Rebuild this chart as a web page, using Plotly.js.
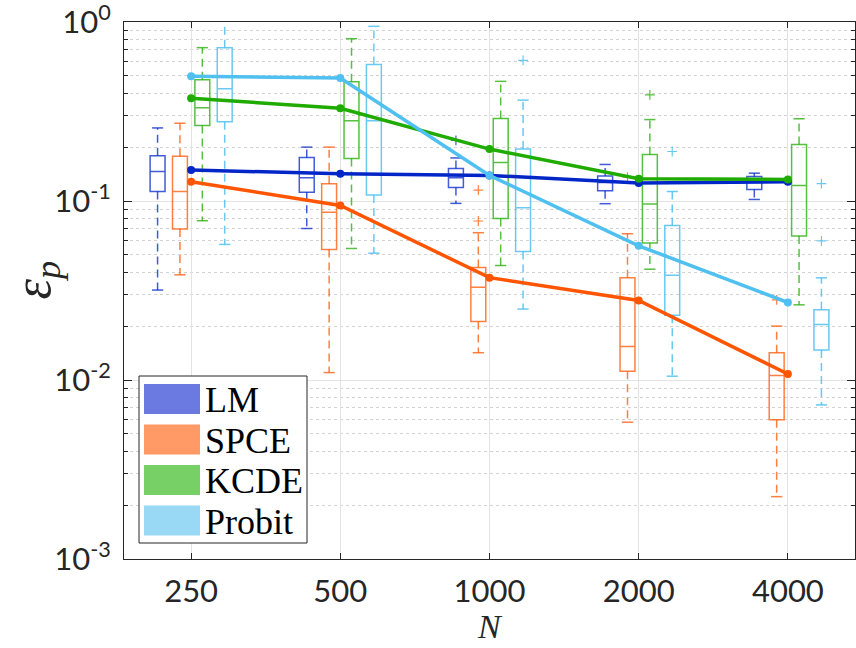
<!DOCTYPE html>
<html>
<head>
<meta charset="utf-8">
<script src="https://cdn.plot.ly/plotly-3.0.1.min.js"></script>
<style>
  body { margin: 0; background: #fff; }
  #chart { width: 856px; height: 648px; }
</style>
</head>
<body>
<div id="chart"></div>
<script>
/* error of the p-quantile vs sample size N, four surrogate methods */

const N_LABELS = ['250', '500', '1000', '2000', '4000'];
const METHODS = ['LM', 'SPCE', 'KCDE', 'Probit'];

// connected markers (one value per N)
const LINE_LM = [0.149, 0.142, 0.139, 0.126, 0.128];
const LINE_SPCE = [0.128, 0.0945, 0.0373, 0.0278, 0.0108];
const LINE_KCDE = [0.375, 0.330, 0.195, 0.133, 0.132];
const LINE_PROBIT = [0.498, 0.486, 0.139, 0.0562, 0.0271];

// box stats per N: lower whisker, q1, median, q3, upper whisker
const LM_LO = [0.0318, 0.0702, 0.0970, 0.0966, 0.102];
const LM_Q1 = [0.113, 0.112, 0.119, 0.114, 0.116];
const LM_MED = [0.146, 0.135, 0.135, 0.127, 0.130];
const LM_Q3 = [0.179, 0.175, 0.152, 0.138, 0.137];
const LM_HI = [0.256, 0.200, 0.174, 0.160, 0.143];

const SPCE_LO = [0.0387, 0.0110, 0.0142, 0.00581, 0.00223];
const SPCE_Q1 = [0.0697, 0.0536, 0.0212, 0.0112, 0.00599];
const SPCE_MED = [0.113, 0.0864, 0.0330, 0.0154, 0.0106];
const SPCE_Q3 = [0.178, 0.125, 0.0425, 0.0373, 0.0142];
const SPCE_HI = [0.272, 0.200, 0.0665, 0.0656, 0.0200];

const KCDE_LO = [0.0776, 0.0543, 0.0436, 0.0416, 0.0263];
const KCDE_Q1 = [0.264, 0.173, 0.0799, 0.0582, 0.0637];
const KCDE_MED = [0.332, 0.281, 0.164, 0.0962, 0.122];
const KCDE_Q3 = [0.476, 0.464, 0.289, 0.182, 0.207];
const KCDE_HI = [0.719, 0.807, 0.466, 0.285, 0.288];

const PROBIT_LO = [0.0572, 0.0511, 0.0249, 0.0105, 0.00726];
const PROBIT_Q1 = [0.277, 0.108, 0.0522, 0.0230, 0.0147];
const PROBIT_MED = [0.424, 0.281, 0.0917, 0.0385, 0.0204];
const PROBIT_Q3 = [0.719, 0.578, 0.195, 0.0730, 0.0247];
const PROBIT_HI = [1.2, 0.946, 0.366, 0.113, 0.0372];

// outliers: [N index, value]
const LM_OUT = [[2, 0.218]];
const SPCE_OUT = [[2, 0.115], [2, 0.0773], [3, 0.136], [4, 0.0280]];
const KCDE_OUT = [[3, 0.392]];
const PROBIT_OUT = [[2, 0.610], [3, 0.189], [4, 0.125], [4, 0.0599]];

const Y_TICKS = [0.001, 0.01, 0.1, 1];
const Y_TICKTEXT = ['10<sup>-3</sup>', '10<sup>-2</sup>', '10<sup>-1</sup>', '10<sup>0</sup>'];

const LINE_COLORS = ['#0026c8', '#ff5500', '#1fab00', '#4fc0f0'];
const BOX_COLORS = ['rgba(0,38,200,0.75)', 'rgba(255,85,0,0.75)',
  'rgba(31,171,0,0.75)', 'rgba(79,192,240,0.85)'];
const SWATCH = ['#6a7ae0', '#ff9966', '#77d066', '#99d9f5'];
const OFFSETS = [-0.225, -0.075, 0.075, 0.225];

const TEXT = '#262626';
const SERIF = 'Liberation Serif, Times New Roman, serif';
const SANS = 'Lato, Open Sans, sans-serif';

const STATS = [
  { lo: LM_LO, q1: LM_Q1, med: LM_MED, q3: LM_Q3, hi: LM_HI, out: LM_OUT, line: LINE_LM },
  { lo: SPCE_LO, q1: SPCE_Q1, med: SPCE_MED, q3: SPCE_Q3, hi: SPCE_HI, out: SPCE_OUT, line: LINE_SPCE },
  { lo: KCDE_LO, q1: KCDE_Q1, med: KCDE_MED, q3: KCDE_Q3, hi: KCDE_HI, out: KCDE_OUT, line: LINE_KCDE },
  { lo: PROBIT_LO, q1: PROBIT_Q1, med: PROBIT_MED, q3: PROBIT_Q3, hi: PROBIT_HI, out: PROBIT_OUT, line: LINE_PROBIT },
];

const pos = N_LABELS.map((_, i) => i + 1);

const boxes = [], whiskers = [], lines = [];
STATS.forEach((s, m) => {
  const col = BOX_COLORS[m];
  const xs = pos.map(p => p + OFFSETS[m]);
  boxes.push({
    type: 'box', x: xs, q1: s.q1, median: s.med, q3: s.q3,
    lowerfence: s.q1, upperfence: s.q3, width: 0.1, whiskerwidth: 0,
    line: { color: col, width: 1.5 }, fillcolor: 'rgba(0,0,0,0)',
    boxpoints: false, hoverinfo: 'skip', showlegend: false,
  });
  // dashed whiskers
  const wx = [], wy = [];
  xs.forEach((x, i) => {
    wx.push(x, x, null, x, x, null);
    wy.push(s.q3[i], s.hi[i], null, s.q1[i], s.lo[i], null);
  });
  whiskers.push({
    type: 'scatter', mode: 'lines', x: wx, y: wy, connectgaps: false,
    line: { color: col, width: 1.5, dash: '8px,5px' },
    hoverinfo: 'skip', showlegend: false,
  });
  // whisker caps
  whiskers.push({
    type: 'scatter', mode: 'markers', x: xs.concat(xs), y: s.lo.concat(s.hi),
    marker: { symbol: 'line-ew-open', size: 8, color: col, line: { color: col, width: 1.5 } },
    hoverinfo: 'skip', showlegend: false,
  });
  // outliers
  whiskers.push({
    type: 'scatter', mode: 'markers',
    x: s.out.map(o => pos[o[0]] + OFFSETS[m]), y: s.out.map(o => o[1]),
    marker: { symbol: 'cross-thin-open', size: 7, color: col, line: { color: col, width: 1.2 } },
    hoverinfo: 'skip', showlegend: false,
  });
  lines.push({
    type: 'scatter', mode: 'lines+markers', x: pos, y: s.line,
    line: { color: LINE_COLORS[m], width: 3.5 },
    marker: { color: LINE_COLORS[m], size: 8 },
    hoverinfo: 'skip', showlegend: false,
  });
});

// hand-drawn legend (filled swatches like the MATLAB patches)
const L = 124, R = 855, T = 22, B = 559;
const px = v => (v - L) / (R - L);
const py = v => (B - v) / (B - T);
const shapes = [{
  type: 'rect', xref: 'paper', yref: 'paper', layer: 'above',
  x0: px(139), x1: px(307), y0: py(543), y1: py(376),
  fillcolor: '#fff', line: { color: TEXT, width: 1 },
}];
const annotations = [];
METHODS.forEach((name, m) => {
  const cy = 399 + m * 40.5;
  shapes.push({
    type: 'rect', xref: 'paper', yref: 'paper', layer: 'above',
    x0: px(144), x1: px(200), y0: py(cy + 15), y1: py(cy - 15),
    fillcolor: SWATCH[m], line: { width: 0 },
  });
  annotations.push({
    xref: 'paper', yref: 'paper', x: px(203), y: py(cy + 1),
    xanchor: 'left', yanchor: 'middle', showarrow: false, text: name,
    font: { family: SERIF, size: 36, color: '#000' },
  });
});

// axis titles as annotations so they can sit where MATLAB put them
annotations.push({
  xref: 'paper', yref: 'paper', x: px(490), y: py(647),
  xanchor: 'center', yanchor: 'bottom', showarrow: false, text: '<i>N</i>',
  font: { family: SERIF, size: 34, color: TEXT },
});
annotations.push({
  xref: 'paper', yref: 'paper', x: px(1), y: py(280),
  xanchor: 'left', yanchor: 'middle', showarrow: false, textangle: -90,
  text: '<i>ε<sub>p</sub></i>',
  font: { family: SERIF, size: 52, color: TEXT },
});

const layout = {
  width: 856, height: 648,
  margin: { l: L, r: 856 - R, t: T, b: 648 - B },
  paper_bgcolor: '#fff', plot_bgcolor: '#fff',
  showlegend: false,
  xaxis: {
    range: [0.55, 5.45], tickmode: 'array', tickvals: pos, ticktext: N_LABELS,
    ticks: 'inside', ticklen: 6, tickcolor: TEXT,
    showline: true, mirror: 'ticks', linecolor: TEXT, linewidth: 1,
    showgrid: true, gridcolor: '#e3e3e3', zeroline: false,
    tickfont: { family: SANS, size: 31, color: TEXT },
    ticklabelstandoff: 5,
  },
  yaxis: {
    type: 'log', range: [-3, 0], tickmode: 'array', tickvals: Y_TICKS, ticktext: Y_TICKTEXT,
    ticks: 'inside', ticklen: 8, tickcolor: TEXT,
    showline: true, mirror: 'ticks', linecolor: TEXT, linewidth: 1,
    showgrid: true, gridcolor: '#e3e3e3', zeroline: false,
    minor: {
      dtick: 'D1', ticks: 'inside', ticklen: 4, tickcolor: TEXT,
      showgrid: true, gridcolor: '#d2d2d2', griddash: 'dot',
    },
    tickfont: { family: SANS, size: 31, color: TEXT },
    ticklabelstandoff: 6, ticklabeloverflow: 'allow',
  },
  shapes, annotations,
};

Plotly.newPlot('chart', boxes.concat(whiskers, lines), layout, { displayModeBar: false, staticPlot: true });
</script>
</body>
</html>
